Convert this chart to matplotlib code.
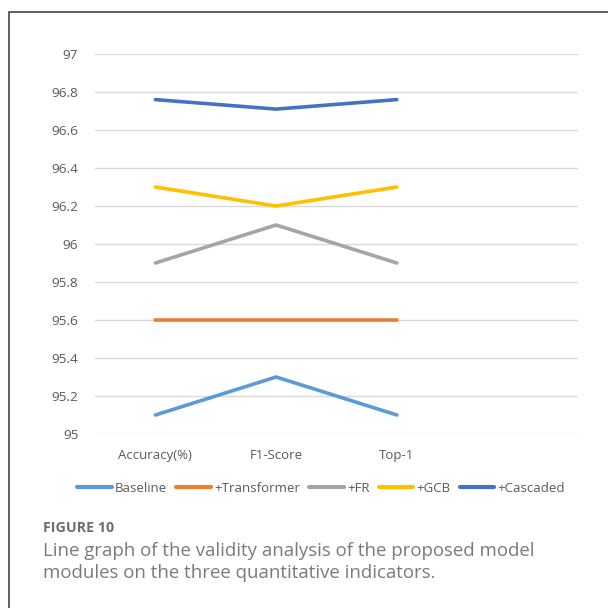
import matplotlib
matplotlib.use("Agg")
import matplotlib.pyplot as plt
from matplotlib.patches import Rectangle

# Metrics on the x axis (the trailing empty slot keeps the spreadsheet-style spacing)
categories = ["Accuracy(%)", "F1-Score", "Top-1", ""]

# Module variants and their scores on the three metrics
series_names = ["Baseline", "+Transformer", "+FR", "+GCB", "+Cascaded"]
baseline = [95.1, 95.3, 95.1]
transformer = [95.6, 95.6, 95.6]
fr = [95.9, 96.1, 95.9]
gcb = [96.3, 96.2, 96.3]
cascaded = [96.76, 96.71, 96.76]
series_values = [baseline, transformer, fr, gcb, cascaded]
series_colors = ["#5B9BD5", "#ED7D31", "#A5A5A5", "#FFC000", "#4472C4"]

y_ticks = [95.0, 95.2, 95.4, 95.6, 95.8, 96.0, 96.2, 96.4, 96.6, 96.8, 97.0]
y_tick_labels = ["95", "95.2", "95.4", "95.6", "95.8", "96",
                 "96.2", "96.4", "96.6", "96.8", "97"]

caption_title = "FIGURE 10"
caption_lines = ["Line graph of the validity analysis of the proposed model",
                 "modules on the three quantitative indicators."]

W, H = 608, 608
fig = plt.figure(figsize=(W / 100, H / 100), dpi=100)
fig.patch.set_facecolor("white")

chart_font = "Open Sans"
text_gray = "#595959"

# plot area in pixel terms
left, right, top, bottom = 95, 578, 54, 434
ax = fig.add_axes([left / W, 1 - bottom / H, (right - left) / W, (bottom - top) / H])

x_pos = list(range(len(categories)))
for name, vals, col in zip(series_names, series_values, series_colors):
    ax.plot(x_pos[:len(vals)], vals, color=col, lw=2.6, label=name,
            solid_capstyle="round", solid_joinstyle="round", zorder=3)

ax.set_xlim(-0.5, len(categories) - 0.5)
ax.set_ylim(95, 97)
ax.set_yticks(y_ticks)
ax.set_yticklabels(y_tick_labels, fontfamily=chart_font, fontsize=9.7, color=text_gray)
ax.set_xticks(x_pos)
ax.set_xticklabels(categories, fontfamily=chart_font, fontsize=9.5, color=text_gray)
ax.tick_params(axis="both", length=0)
ax.tick_params(axis="y", pad=12)
ax.tick_params(axis="x", pad=10.5)
ax.grid(axis="y", color="#D9D9D9", lw=1.0, zorder=0)
ax.set_axisbelow(True)
for sp in ax.spines.values():
    sp.set_visible(False)

handles, labels = ax.get_legend_handles_labels()
leg = fig.legend(handles, labels, loc="center", bbox_to_anchor=(321 / W, 1 - 488 / H),
                 ncol=5, frameon=False, handlelength=2.6, handletextpad=0.25,
                 columnspacing=0.7, borderaxespad=0,
                 prop={"family": chart_font, "size": 9.5})
for t in leg.get_texts():
    t.set_color(text_gray)
for lh in leg.get_lines():
    lh.set_linewidth(3.0)
    lh.set_solid_capstyle("round")

# outer frame (open at the right and bottom edges)
fig.add_artist(Rectangle((9 / W, -0.1), 1.2, 1.1 - 12 / H, transform=fig.transFigure,
                         fill=False, edgecolor="#444444", lw=1.2))

fig.text(43 / W, 1 - 528 / H, caption_title, fontfamily="Open Sans", fontweight="bold",
         fontsize=10.3, color="#6E6E6E", va="center", ha="left")
for line, y_px in zip(caption_lines, [551, 573]):
    fig.text(43 / W, 1 - y_px / H, line, fontfamily="Open Sans", fontsize=13.4,
             color="#7A7A7A", va="center", ha="left")

fig.savefig("out.png", dpi=100, facecolor="white")
